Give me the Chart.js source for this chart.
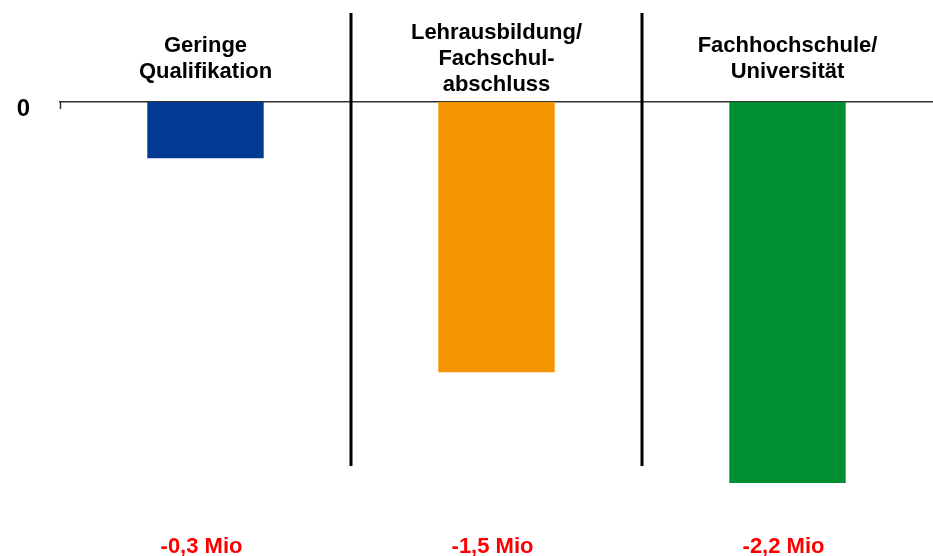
<!DOCTYPE html>
<html><head><meta charset="utf-8">
<script src="https://cdn.jsdelivr.net/npm/chart.js@4"></script>
<style>html,body{margin:0;padding:0;background:#fff}#wrap{width:933px;height:556px;position:relative}</style>
</head><body><div id="wrap"><canvas id="c"></canvas></div>
<script>
const categories = [["Geringe","Qualifikation"],["Lehrausbildung/","Fachschul-","abschluss"],["Fachhochschule/","Universität"]];
const values = [-0.325, -1.56, -2.2];
const valueLabels = ["-0,3 Mio","-1,5 Mio","-2,2 Mio"];
const barColors = ["#003A92","#F59500","#008E33"];
const yTicks = [0];

const FONT = '"Liberation Sans", Arial, Helvetica, sans-serif';

const decor = {
  id: 'decor',
  afterDraw(chart) {
    const ctx = chart.ctx, x = chart.scales.x, a = chart.chartArea;
    ctx.save();
    ctx.strokeStyle = '#000';
    ctx.lineWidth = 3;
    for (let i = 0; i < categories.length - 1; i++) {
      const px = (x.getPixelForValue(i) + x.getPixelForValue(i + 1)) / 2;
      ctx.beginPath(); ctx.moveTo(px, 13); ctx.lineTo(px, 466); ctx.stroke();
    }
    ctx.strokeStyle = '#333';
    ctx.lineWidth = 1.5;
    ctx.beginPath(); ctx.moveTo(a.left + 0.5, a.top); ctx.lineTo(a.left + 0.5, a.top + 7); ctx.stroke();
    ctx.restore();
  }
};

new Chart(document.getElementById('c'), {
  type: 'bar',
  data: {
    labels: categories,
    datasets: [{
      data: values,
      backgroundColor: barColors,
      borderWidth: 0,
      barPercentage: 0.4,
      categoryPercentage: 1.0,
      xAxisID: 'x',
      yAxisID: 'y'
    }]
  },
  options: {
    responsive: true,
    maintainAspectRatio: false,
    animation: false,
    layout: { padding: 0 },
    plugins: { legend: { display: false }, tooltip: { enabled: false } },
    scales: {
      x: {
        type: 'category',
        position: 'top',
        offset: true,
        grid: { display: false, drawTicks: false },
        border: { display: true, color: '#333', width: 1.5 },
        ticks: {
          autoSkip: false, maxRotation: 0, minRotation: 0,
          crossAlign: 'center',
          padding: 17,
          color: '#000',
          font: { family: FONT, size: 22, weight: 'bold', lineHeight: '26px' }
        },
        afterFit(s) { s.height = 102; }
      },
      x2: {
        type: 'category',
        position: 'bottom',
        labels: valueLabels,
        min: 0, max: valueLabels.length - 1,
        offset: true,
        grid: { display: false, drawTicks: false },
        border: { display: false },
        ticks: {
          autoSkip: false, maxRotation: 0, minRotation: 0,
          padding: 52,
          labelOffset: -4,
          color: '#FF0000',
          font: { family: FONT, size: 22, weight: 'bold', lineHeight: '24px' }
        },
        afterFit(s) { s.height = 73; }
      },
      y: {
        min: -2.2, max: 0,
        position: 'left',
        grid: { display: false, drawTicks: false },
        border: { display: false },
        afterBuildTicks(s) { s.ticks = yTicks.map(v => ({ value: v })); },
        ticks: {
          padding: 30,
          labelOffset: 7,
          color: '#000',
          font: { family: FONT, size: 24, weight: 'bold' },
          callback: v => String(v)
        },
        afterFit(s) { s.width = 60; }
      }
    }
  },
  plugins: [decor]
});
</script>
</body></html>
